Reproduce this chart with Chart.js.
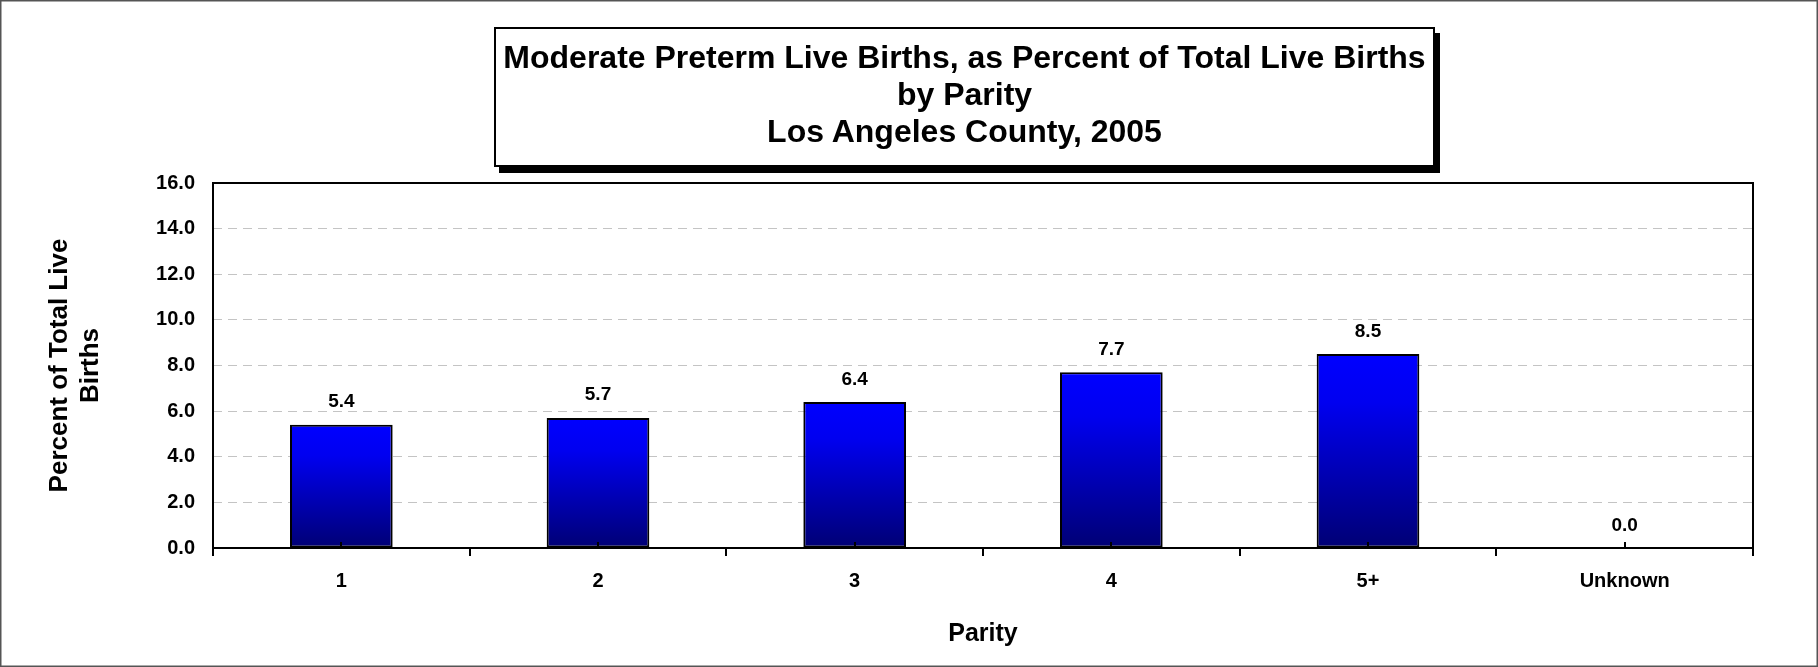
<!DOCTYPE html>
<html>
<head>
<meta charset="utf-8">
<script src="https://cdn.jsdelivr.net/npm/chart.js"></script>
<style>
  html, body { margin: 0; padding: 0; background: #fff; }
  #wrap { position: relative; width: 1818px; height: 667px; font-family: "Liberation Sans", Arial, sans-serif; }
  #chart { position: absolute; left: 0; top: 0; }
  #title {
    position: absolute; left: 494px; top: 27px; width: 937px; height: 136px;
    border: 2px solid #000; background: #fff; box-shadow: 5px 6px 0 #000;
  }
  #title .txt {
    padding-top: 10px; font-weight: bold; font-size: 32px; line-height: 37px;
    text-align: center; color: #000; white-space: nowrap;
  }
</style>
</head>
<body>
<div id="wrap">
  <canvas id="chart" width="1818" height="667"></canvas>
  <div id="title"><div class="txt">
    <div>Moderate Preterm Live Births, as Percent of Total Live Births</div>
    <div>by Parity</div>
    <div>Los Angeles County, 2005</div>
  </div></div>
</div>
<script>
const categories = ['1', '2', '3', '4', '5+', 'Unknown'];
const percentValues = [5.4, 5.7, 6.4, 7.7, 8.5, 0.0];
const yTickMin = 0;
const yTickMax = 16;
const yTickStep = 2;

const FONT = '"Liberation Sans", Arial, sans-serif';

// white page + thin outer frame
const pageFrame = {
  id: 'pageFrame',
  beforeDraw(chart) {
    const c = chart.ctx;
    c.save();
    c.fillStyle = '#fff';
    c.fillRect(0, 0, chart.width, chart.height);
    c.strokeStyle = '#555';
    c.lineWidth = 1.5;
    c.strokeRect(0.75, 0.75, chart.width - 1.5, chart.height - 1.5);
    c.restore();
  }
};

// plot box, centre ticks and value labels
const plotExtras = {
  id: 'plotExtras',
  afterDatasetsDraw(chart) {
    const c = chart.ctx;
    const a = chart.chartArea;
    const xs = chart.scales.x;
    c.save();
    c.strokeStyle = '#000';
    c.lineWidth = 2;
    c.strokeRect(a.left, a.top, a.right - a.left, a.bottom - a.top);
    c.beginPath();
    categories.forEach((_, i) => {
      const x = Math.round(xs.getPixelForValue(i));
      c.moveTo(x, a.bottom - 6);
      c.lineTo(x, a.bottom);
    });
    c.stroke();

    const meta = chart.getDatasetMeta(0);
    c.fillStyle = '#000';
    c.font = 'bold 19px ' + FONT;
    c.textAlign = 'center';
    c.textBaseline = 'alphabetic';
    meta.data.forEach((bar, i) => {
      c.fillText(percentValues[i].toFixed(1), bar.x, bar.y - 17.5);
    });
    c.restore();
  }
};

new Chart(document.getElementById('chart'), {
  type: 'bar',
  data: {
    labels: categories,
    datasets: [{
      data: percentValues,
      backgroundColor: (ctx) => {
        const chart = ctx.chart;
        if (!chart.chartArea || ctx.type !== 'data') return '#0000ff';
        const ys = chart.scales.y;
        const top = ys.getPixelForValue(ctx.parsed.y);
        const base = ys.getPixelForValue(0);
        if (base - top < 1) return '#000078';
        const g = chart.ctx.createLinearGradient(0, top, 0, base);
        g.addColorStop(0, '#0000ff');
        g.addColorStop(0.25, '#0000f0');
        g.addColorStop(1, '#000074');
        return g;
      },
      borderColor: '#000',
      borderWidth: 2,
      borderSkipped: false,
      barPercentage: 0.4,
      categoryPercentage: 1.0
    }]
  },
  options: {
    responsive: false,
    animation: false,
    layout: { padding: { left: 0, top: 183, right: 65, bottom: 0 } },
    plugins: { legend: { display: false }, tooltip: { enabled: false } },
    scales: {
      x: {
        afterFit: (s) => { s.height = 119; },
        grid: { offset: true, drawOnChartArea: false, drawTicks: true, tickLength: 8, color: '#000', lineWidth: 2 },
        border: { display: false },
        ticks: { color: '#000', padding: 13, font: { family: FONT, size: 20, weight: 'bold' } },
        title: {
          display: true, text: 'Parity', color: '#000',
          font: { family: FONT, size: 25, weight: 'bold' },
          padding: { top: 0, bottom: 18 }
        }
      },
      y: {
        min: yTickMin,
        max: yTickMax,
        afterFit: (s) => { s.width = 213; },
        grid: { drawTicks: false, color: '#c4c4c4', lineWidth: 1 },
        border: { display: false, dash: [9, 6] },
        ticks: {
          stepSize: yTickStep, color: '#000', padding: 18,
          font: { family: FONT, size: 20, weight: 'bold' },
          callback: (v) => Number(v).toFixed(1)
        },
        title: {
          display: true, text: ['Percent of Total Live', 'Births'], color: '#000',
          font: { family: FONT, size: 26, weight: 'bold' },
          padding: { top: 44, bottom: 0 }
        }
      }
    }
  },
  plugins: [pageFrame, plotExtras]
});
</script>
</body>
</html>
